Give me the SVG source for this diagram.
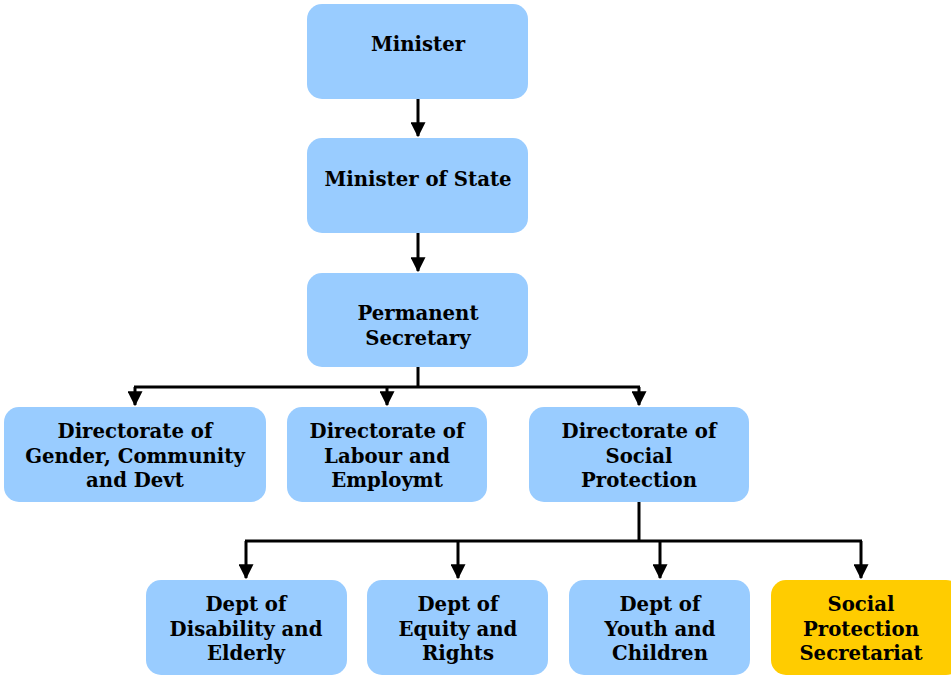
<svg xmlns="http://www.w3.org/2000/svg" width="951" height="675" viewBox="0 0 951 675">
  <defs>
    <style>
      .box { fill: #99CCFF; }
      .hl { fill: #FFCC00; }
      .lbl { font-family: "DejaVu Serif", "Liberation Serif", serif; font-weight: bold; font-size: 19.7px; fill: #000; text-anchor: middle; }
      .wire { fill: none; stroke: #000; stroke-width: 3; }
    </style>
    <marker id="arrow" markerWidth="5" markerHeight="5" refX="4.6" refY="2.5" orient="auto" markerUnits="strokeWidth">
      <path d="M0,0 L5,2.5 L0,5 Z" fill="#000"/>
    </marker>
  </defs>

  <g id="connectors">
    <path class="wire" d="M418,99 V136" marker-end="url(#arrow)"/>
    <path class="wire" d="M418,233 V271" marker-end="url(#arrow)"/>
    <path class="wire" d="M418,367 V387"/>
    <path class="wire" d="M134,387 H640"/>
    <path class="wire" d="M135,387 V405" marker-end="url(#arrow)"/>
    <path class="wire" d="M387,387 V405" marker-end="url(#arrow)"/>
    <path class="wire" d="M639,387 V405" marker-end="url(#arrow)"/>
    <path class="wire" d="M639,502 V541"/>
    <path class="wire" d="M245,541 H862"/>
    <path class="wire" d="M246,541 V578" marker-end="url(#arrow)"/>
    <path class="wire" d="M458,541 V578" marker-end="url(#arrow)"/>
    <path class="wire" d="M660,541 V578" marker-end="url(#arrow)"/>
    <path class="wire" d="M861,541 V578" marker-end="url(#arrow)"/>
  </g>

  <g id="minister">
    <rect class="box" x="307" y="4" width="221" height="95" rx="15"/>
    <text class="lbl" x="418" y="51">Minister</text>
  </g>
  <g id="minister-of-state">
    <rect class="box" x="307" y="138" width="221" height="95" rx="15"/>
    <text class="lbl" x="418" y="186">Minister of State</text>
  </g>
  <g id="permanent-secretary">
    <rect class="box" x="307" y="273" width="221" height="94" rx="15"/>
    <text class="lbl" x="418" y="320">Permanent</text>
    <text class="lbl" x="418" y="345">Secretary</text>
  </g>

  <g id="dir-gender">
    <rect class="box" x="4" y="407" width="262" height="95" rx="15"/>
    <text class="lbl" x="135" y="438">Directorate of</text>
    <text class="lbl" x="135" y="463">Gender, Community</text>
    <text class="lbl" x="135" y="487">and Devt</text>
  </g>
  <g id="dir-labour">
    <rect class="box" x="287" y="407" width="200" height="95" rx="15"/>
    <text class="lbl" x="387" y="438">Directorate of</text>
    <text class="lbl" x="387" y="463">Labour and</text>
    <text class="lbl" x="387" y="487">Employmt</text>
  </g>
  <g id="dir-social">
    <rect class="box" x="529" y="407" width="220" height="95" rx="15"/>
    <text class="lbl" x="639" y="438">Directorate of</text>
    <text class="lbl" x="639" y="463">Social</text>
    <text class="lbl" x="639" y="487">Protection</text>
  </g>

  <g id="dept-disability">
    <rect class="box" x="146" y="580" width="201" height="95" rx="15"/>
    <text class="lbl" x="246" y="611">Dept of</text>
    <text class="lbl" x="246" y="636">Disability and</text>
    <text class="lbl" x="246" y="660">Elderly</text>
  </g>
  <g id="dept-equity">
    <rect class="box" x="367" y="580" width="181" height="95" rx="15"/>
    <text class="lbl" x="458" y="611">Dept of</text>
    <text class="lbl" x="458" y="636">Equity and</text>
    <text class="lbl" x="458" y="660">Rights</text>
  </g>
  <g id="dept-youth">
    <rect class="box" x="569" y="580" width="181" height="95" rx="15"/>
    <text class="lbl" x="660" y="611">Dept of</text>
    <text class="lbl" x="660" y="636">Youth and</text>
    <text class="lbl" x="660" y="660">Children</text>
  </g>
  <g id="sp-secretariat">
    <rect class="hl" x="771" y="580" width="190" height="95" rx="15"/>
    <text class="lbl" x="861" y="611">Social</text>
    <text class="lbl" x="861" y="636">Protection</text>
    <text class="lbl" x="861" y="660">Secretariat</text>
  </g>
</svg>
